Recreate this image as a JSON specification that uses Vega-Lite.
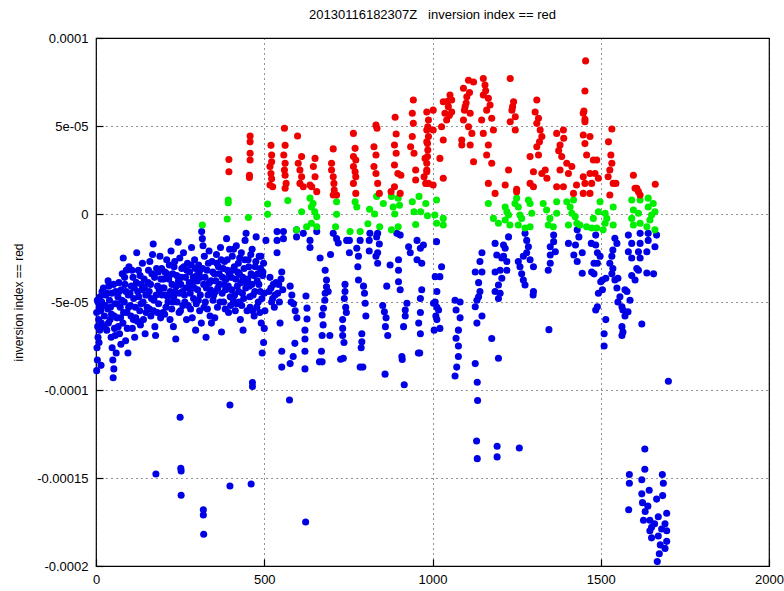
{
"$schema":"https://vega.github.io/schema/vega-lite/v6.json",
"width":673,"height":528,
"autosize":"none",
"padding":{"left":96,"top":38,"right":15,"bottom":25},
"background":"white",
"title":{"text":"20130116182307Z\u00a0\u00a0\u00a0inversion index == red","anchor":"middle","fontSize":13,"fontWeight":"normal","font":"Liberation Sans","color":"#000","offset":10},
"config":{"view":{"stroke":"#000","strokeWidth":1.2},"axis":{"labelFont":"Liberation Sans","labelFontSize":13,"labelColor":"#000","titleFont":"Liberation Sans","titleFontWeight":"normal","titleColor":"#000","domain":false,"grid":true,"gridColor":"#000","gridOpacity":0.85,"gridDash":[1,4],"gridWidth":1,"tickColor":"#000","ticks":true,"tickSize":-7,"tickWidth":1.2}},
"datasets":{
"b":[
{"x":2,"y":-8.9e-5},{"x":4,"y":-8.3e-5},{"x":3,"y":-7.6e-5},{"x":6,"y":-7.0e-5},{"x":5,"y":-6.4e-5},{"x":8,"y":-6.0e-5},{"x":2,"y":-5.6e-5},{"x":10,"y":-5.3e-5},{"x":6,"y":-5.0e-5},{"x":12,"y":-4.7e-5},{"x":14,"y":-5.5e-5},{"x":16,"y":-6.2e-5},{"x":18,"y":-4.4e-5},{"x":20,"y":-5.2e-5},{"x":22,"y":-4.2e-5},{"x":25,"y":-5.8e-5},{"x":28,"y":-4.6e-5},{"x":15,"y":-8.6e-5},{"x":9,"y":-7.3e-5},
{"x":32,"y":-6.6e-5},{"x":35,"y":-5.4e-5},{"x":38,"y":-4.1e-5},{"x":40,"y":-4.9e-5},{"x":42,"y":-6.0e-5},{"x":45,"y":-7.0e-5},{"x":48,"y":-7.6e-5},{"x":50,"y":-8.3e-5},{"x":51,"y":-9.3e-5},{"x":53,"y":-8.8e-5},{"x":55,"y":-6.5e-5},{"x":56,"y":-5.1e-5},{"x":58,"y":-4.4e-5},{"x":52,"y":-4.0e-5},{"x":60,"y":-7.9e-5},{"x":46,"y":-5.7e-5},{"x":36,"y":-3.8e-5},
{"x":62,"y":-5.9e-5},{"x":65,"y":-4.7e-5},{"x":68,"y":-3.9e-5},{"x":70,"y":-6.8e-5},{"x":72,"y":-5.3e-5},{"x":75,"y":-4.3e-5},{"x":78,"y":-3.4e-5},{"x":80,"y":-6.2e-5},{"x":81,"y":-2.5e-5},{"x":84,"y":-5.0e-5},{"x":86,"y":-4.0e-5},{"x":88,"y":-7.2e-5},{"x":90,"y":-3.2e-5},{"x":92,"y":-5.6e-5},{"x":95,"y":-7.9e-5},{"x":96,"y":-4.6e-5},{"x":98,"y":-3.0e-5},{"x":74,"y":-7.4e-5},
{"x":102,"y":-5.2e-5},{"x":105,"y":-4.1e-5},{"x":108,"y":-6.5e-5},{"x":110,"y":-3.6e-5},{"x":112,"y":-4.8e-5},{"x":115,"y":-7.0e-5},{"x":118,"y":-5.9e-5},{"x":121,"y":-2.2e-5},{"x":124,"y":-4.4e-5},{"x":126,"y":-3.2e-5},{"x":130,"y":-5.5e-5},{"x":132,"y":-6.3e-5},{"x":135,"y":-4.0e-5},{"x":138,"y":-2.8e-5},{"x":140,"y":-5.0e-5},{"x":143,"y":-3.7e-5},{"x":146,"y":-6.8e-5},{"x":148,"y":-4.6e-5},
{"x":152,"y":-5.3e-5},{"x":155,"y":-3.9e-5},{"x":158,"y":-4.4e-5},{"x":160,"y":-2.7e-5},{"x":163,"y":-5.8e-5},{"x":166,"y":-3.4e-5},{"x":170,"y":-1.7e-5},{"x":172,"y":-4.9e-5},{"x":175,"y":-6.4e-5},{"x":177,"y":-6.9e-5},{"x":180,"y":-3.1e-5},{"x":183,"y":-4.1e-5},{"x":186,"y":-5.1e-5},{"x":190,"y":-2.4e-5},{"x":193,"y":-3.7e-5},{"x":196,"y":-4.6e-5},{"x":199,"y":-5.6e-5},
{"x":202,"y":-4.2e-5},{"x":205,"y":-3.3e-5},{"x":208,"y":-5.3e-5},{"x":210,"y":-2.6e-5},{"x":213,"y":-4.7e-5},{"x":216,"y":-3.7e-5},{"x":220,"y":-6.0e-5},{"x":223,"y":-2.1e-5},{"x":226,"y":-4.0e-5},{"x":229,"y":-5.0e-5},{"x":232,"y":-3.0e-5},{"x":235,"y":-4.4e-5},{"x":237,"y":-7.1e-5},{"x":240,"y":-3.5e-5},{"x":244,"y":-1.6e-5},{"x":247,"y":-5.6e-5},{"x":249,"y":-2.5e-5},{"x":230,"y":-6.4e-5},
{"x":252,"y":-4.0e-5},{"x":255,"y":-3.1e-5},{"x":258,"y":-5.2e-5},{"x":260,"y":-2.2e-5},{"x":263,"y":-4.6e-5},{"x":266,"y":-3.6e-5},{"x":269,"y":-6.0e-5},{"x":272,"y":-2.8e-5},{"x":275,"y":-4.2e-5},{"x":278,"y":-3.3e-5},{"x":281,"y":-5.4e-5},{"x":284,"y":-1.9e-5},{"x":287,"y":-3.9e-5},{"x":290,"y":-4.8e-5},{"x":293,"y":-2.6e-5},{"x":296,"y":-6.6e-5},{"x":299,"y":-3.5e-5},
{"x":302,"y":-4.3e-5},{"x":305,"y":-2.9e-5},{"x":308,"y":-5.5e-5},{"x":311,"y":-3.6e-5},{"x":314,"y":-1.0e-5},{"x":316,"y":-1.4e-5},{"x":318,"y":-1.8e-5},{"x":320,"y":-4.0e-5},{"x":322,"y":-2.4e-5},{"x":325,"y":-5.0e-5},{"x":327,"y":-7.0e-5},{"x":330,"y":-3.2e-5},{"x":333,"y":-4.6e-5},{"x":336,"y":-2.1e-5},{"x":339,"y":-5.8e-5},{"x":342,"y":-3.8e-5},{"x":345,"y":-2.7e-5},{"x":348,"y":-4.9e-5},
{"x":352,"y":-3.4e-5},{"x":355,"y":-4.4e-5},{"x":358,"y":-2.3e-5},{"x":361,"y":-5.3e-5},{"x":364,"y":-3.0e-5},{"x":367,"y":-4.0e-5},{"x":370,"y":-1.9e-5},{"x":373,"y":-6.7e-5},{"x":376,"y":-3.6e-5},{"x":379,"y":-5.0e-5},{"x":382,"y":-2.7e-5},{"x":385,"y":-4.3e-5},{"x":388,"y":-1.4e-5},{"x":391,"y":-3.2e-5},{"x":394,"y":-5.6e-5},{"x":397,"y":-2.0e-5},{"x":399,"y":-4.7e-5},
{"x":402,"y":-3.6e-5},{"x":405,"y":-2.4e-5},{"x":408,"y":-4.9e-5},{"x":411,"y":-3.0e-5},{"x":414,"y":-5.5e-5},{"x":417,"y":-1.8e-5},{"x":420,"y":-4.1e-5},{"x":423,"y":-2.8e-5},{"x":426,"y":-3.4e-5},{"x":429,"y":-6.0e-5},{"x":432,"y":-2.2e-5},{"x":435,"y":-4.5e-5},{"x":437,"y":-6.6e-5},{"x":440,"y":-3.1e-5},{"x":443,"y":-1.5e-5},{"x":446,"y":-1.1e-5},{"x":448,"y":-3.9e-5},{"x":425,"y":-5.0e-5},
{"x":452,"y":-2.6e-5},{"x":455,"y":-4.1e-5},{"x":458,"y":-5.3e-5},{"x":461,"y":-3.4e-5},{"x":464,"y":-2.0e-5},{"x":467,"y":-4.6e-5},{"x":470,"y":-5.8e-5},{"x":473,"y":-3.0e-5},{"x":476,"y":-1.3e-5},{"x":479,"y":-3.8e-5},{"x":482,"y":-5.0e-5},{"x":485,"y":-2.4e-5},{"x":488,"y":-4.4e-5},{"x":491,"y":-6.2e-5},{"x":494,"y":-7.9e-5},{"x":496,"y":-3.3e-5},{"x":498,"y":-2.8e-5},
{"x":4,"y":-4.9e-5},{"x":11,"y":-6.6e-5},{"x":17,"y":-5.0e-5},{"x":24,"y":-6.4e-5},{"x":27,"y":-5.2e-5},{"x":33,"y":-4.5e-5},{"x":37,"y":-6.2e-5},{"x":43,"y":-5.3e-5},{"x":47,"y":-4.5e-5},{"x":54,"y":-5.8e-5},{"x":57,"y":-6.9e-5},{"x":63,"y":-5.1e-5},{"x":66,"y":-6.4e-5},{"x":69,"y":-4.4e-5},{"x":73,"y":-5.9e-5},{"x":77,"y":-4.9e-5},{"x":82,"y":-5.6e-5},{"x":85,"y":-3.6e-5},{"x":89,"y":-4.4e-5},{"x":93,"y":-6.5e-5},{"x":97,"y":-5.3e-5},
{"x":101,"y":-4.5e-5},{"x":104,"y":-5.8e-5},{"x":107,"y":-3.2e-5},{"x":111,"y":-6.0e-5},{"x":114,"y":-4.2e-5},{"x":117,"y":-5.3e-5},{"x":120,"y":-3.9e-5},{"x":123,"y":-6.1e-5},{"x":127,"y":-4.7e-5},{"x":131,"y":-3.5e-5},{"x":134,"y":-5.1e-5},{"x":137,"y":-4.3e-5},{"x":141,"y":-6.0e-5},{"x":144,"y":-4.2e-5},{"x":149,"y":-5.6e-5},
{"x":153,"y":-4.6e-5},{"x":156,"y":-3.2e-5},{"x":159,"y":-5.4e-5},{"x":162,"y":-4.0e-5},{"x":165,"y":-4.8e-5},{"x":168,"y":-2.3e-5},{"x":171,"y":-5.5e-5},{"x":174,"y":-3.6e-5},{"x":179,"y":-4.6e-5},{"x":182,"y":-5.6e-5},{"x":185,"y":-3.3e-5},{"x":188,"y":-4.3e-5},{"x":192,"y":-5.9e-5},{"x":195,"y":-3.1e-5},{"x":198,"y":-4.2e-5},
{"x":201,"y":-3.7e-5},{"x":204,"y":-5.7e-5},{"x":207,"y":-4.6e-5},{"x":211,"y":-3.4e-5},{"x":214,"y":-5.0e-5},{"x":218,"y":-2.9e-5},{"x":221,"y":-4.4e-5},{"x":225,"y":-5.4e-5},{"x":228,"y":-3.4e-5},{"x":231,"y":-4.7e-5},{"x":234,"y":-2.7e-5},{"x":238,"y":-4.1e-5},{"x":241,"y":-5.0e-5},{"x":245,"y":-3.8e-5},{"x":248,"y":-4.5e-5},
{"x":251,"y":-5.5e-5},{"x":254,"y":-3.6e-5},{"x":257,"y":-4.4e-5},{"x":261,"y":-3.0e-5},{"x":264,"y":-5.0e-5},{"x":267,"y":-4.2e-5},{"x":270,"y":-3.2e-5},{"x":274,"y":-5.2e-5},{"x":277,"y":-3.9e-5},{"x":280,"y":-4.5e-5},{"x":283,"y":-2.9e-5},{"x":286,"y":-5.9e-5},{"x":289,"y":-3.6e-5},{"x":292,"y":-4.2e-5},{"x":295,"y":-3.1e-5},{"x":298,"y":-5.1e-5},
{"x":301,"y":-3.8e-5},{"x":304,"y":-4.9e-5},{"x":307,"y":-3.3e-5},{"x":310,"y":-4.6e-5},{"x":313,"y":-6.2e-5},{"x":317,"y":-3.1e-5},{"x":321,"y":-5.3e-5},{"x":324,"y":-3.6e-5},{"x":328,"y":-4.2e-5},{"x":331,"y":-5.4e-5},{"x":334,"y":-2.8e-5},{"x":337,"y":-3.9e-5},{"x":340,"y":-4.3e-5},{"x":343,"y":-6.2e-5},{"x":347,"y":-3.3e-5},
{"x":350,"y":-4.6e-5},{"x":353,"y":-5.9e-5},{"x":356,"y":-3.8e-5},{"x":359,"y":-2.8e-5},{"x":362,"y":-4.2e-5},{"x":366,"y":-3.4e-5},{"x":369,"y":-5.0e-5},{"x":372,"y":-2.6e-5},{"x":375,"y":-4.5e-5},{"x":378,"y":-3.1e-5},{"x":381,"y":-4.0e-5},{"x":384,"y":-5.4e-5},{"x":387,"y":-3.7e-5},{"x":390,"y":-2.6e-5},{"x":393,"y":-4.1e-5},{"x":396,"y":-3.4e-5},
{"x":400,"y":-5.2e-5},{"x":403,"y":-4.3e-5},{"x":406,"y":-3.2e-5},{"x":409,"y":-2.0e-5},{"x":412,"y":-4.6e-5},{"x":415,"y":-3.7e-5},{"x":418,"y":-5.1e-5},{"x":421,"y":-3.3e-5},{"x":424,"y":-4.4e-5},{"x":427,"y":-2.5e-5},{"x":430,"y":-3.9e-5},{"x":433,"y":-5.2e-5},{"x":436,"y":-3.6e-5},{"x":439,"y":-4.8e-5},{"x":442,"y":-2.6e-5},{"x":445,"y":-4.2e-5},{"x":449,"y":-5.5e-5},
{"x":451,"y":-3.7e-5},{"x":454,"y":-3.0e-5},{"x":457,"y":-4.7e-5},{"x":460,"y":-2.3e-5},{"x":463,"y":-4.0e-5},{"x":466,"y":-5.5e-5},{"x":469,"y":-3.5e-5},{"x":472,"y":-4.4e-5},{"x":475,"y":-2.7e-5},{"x":478,"y":-5.3e-5},{"x":481,"y":-3.4e-5},{"x":484,"y":-4.0e-5},{"x":487,"y":-5.6e-5},{"x":489,"y":-3.1e-5},{"x":493,"y":-4.8e-5},
{"x":250,"y":-1.155e-4},{"x":178,"y":-1.477e-4},{"x":252,"y":-1.445e-4},{"x":253,"y":-1.46e-4},{"x":253,"y":-1.598e-4},{"x":319,"y":-1.68e-4},{"x":319,"y":-1.71e-4},{"x":320,"y":-1.82e-4},{"x":398,"y":-1.085e-4},{"x":398,"y":-1.545e-4},{"x":461,"y":-1.534e-4},{"x":465,"y":-9.58e-5},{"x":465,"y":-9.8e-5},
{"x":490,"y":-2.4e-5},{"x":495,"y":-3.5e-5},{"x":500,"y":-4.5e-5},{"x":502,"y":-5.5e-5},{"x":500,"y":-6.5e-5},{"x":498,"y":-7.3e-5},{"x":505,"y":-1.5e-5},
{"x":517,"y":-3.6e-5},{"x":520,"y":-4.2e-5},{"x":525,"y":-4.8e-5},{"x":530,"y":-5.3e-5},{"x":535,"y":-3.9e-5},{"x":540,"y":-4.5e-5},{"x":545,"y":-5.0e-5},{"x":550,"y":-3.7e-5},{"x":555,"y":-4.3e-5},{"x":527,"y":-4.0e-5},{"x":538,"y":-1.0e-5},{"x":538,"y":-1.5e-5},{"x":538,"y":-2.2e-5},{"x":552,"y":-3.3e-5},{"x":547,"y":-6.2e-5},{"x":552,"y":-7.8e-5},{"x":552,"y":-8.7e-5},{"x":557,"y":-1.0e-5},{"x":557,"y":-1.4e-5},{"x":522,"y":-5.0e-5},{"x":532,"y":-4.6e-5},{"x":543,"y":-4.0e-5},{"x":514,"y":-4.4e-5},
{"x":577,"y":-4.1e-5},{"x":582,"y":-4.6e-5},{"x":587,"y":-5.1e-5},{"x":592,"y":-5.5e-5},{"x":597,"y":-5.9e-5},{"x":580,"y":-5.0e-5},{"x":591,"y":-7.35e-5},{"x":586,"y":-8.1e-5},{"x":577,"y":-8.5e-5},{"x":575,"y":-1.057e-4},{"x":596,"y":-0.9e-5},{"x":596,"y":-1.3e-5},
{"x":624,"y":-4.66e-5},{"x":627,"y":-5.35e-5},{"x":627,"y":-5.97e-5},{"x":621,"y":-6.6e-5},{"x":621,"y":-7.1e-5},{"x":621,"y":-7.8e-5},{"x":621,"y":-8.8e-5},{"x":616,"y":-1.1e-5},{"x":636,"y":-1.5e-5},{"x":636,"y":-1.9e-5},{"x":623,"y":-1.75e-4},{"x":656,"y":-1.0e-5},
{"x":681,"y":-3.2e-5},{"x":685,"y":-3.75e-5},{"x":685,"y":-4.13e-5},{"x":681,"y":-4.5e-5},{"x":680,"y":-4.9e-5},{"x":676,"y":-5.36e-5},{"x":672,"y":-5.74e-5},{"x":672,"y":-6.9e-5},{"x":670,"y":-7.8e-5},{"x":672,"y":-8.4e-5},{"x":695,"y":-6.9e-5},{"x":697,"y":-2.3e-5},{"x":664,"y":-8.4e-5},{"x":666,"y":-2.5e-5},{"x":690,"y":-4.4e-5},{"x":675,"y":-6.3e-5},
{"x":705,"y":-1.1e-5},{"x":715,"y":-1.4e-5},{"x":720,"y":-1.65e-5},
{"x":740,"y":-4.0e-5},{"x":740,"y":-4.4e-5},{"x":738,"y":-4.8e-5},{"x":742,"y":-5.3e-5},{"x":744,"y":-5.6e-5},{"x":733,"y":-6.0e-5},{"x":733,"y":-6.5e-5},{"x":733,"y":-6.9e-5},{"x":737,"y":-7.3e-5},{"x":735,"y":-8.2e-5},{"x":727,"y":-8.25e-5},{"x":753,"y":-1.5e-5},{"x":753,"y":-2.2e-5},{"x":745,"y":-1.5e-5},
{"x":775,"y":-1.95e-5},{"x":780,"y":-2.4e-5},{"x":778,"y":-3.0e-5},{"x":780,"y":-3.75e-5},{"x":795,"y":-4.1e-5},{"x":798,"y":-4.5e-5},{"x":800,"y":-5.07e-5},{"x":802,"y":-5.8e-5},{"x":790,"y":-6.8e-5},{"x":790,"y":-7.26e-5},{"x":788,"y":-7.6e-5},{"x":785,"y":-8.7e-5},{"x":793,"y":-8.7e-5},{"x":785,"y":-1.5e-5},
{"x":812,"y":-1.5e-5},{"x":812,"y":-2.1e-5},{"x":832,"y":-2.4e-5},{"x":837,"y":-2.8e-5},{"x":837,"y":-1.1e-5},{"x":842,"y":-1.7e-5},{"x":837,"y":-2.2e-5},{"x":814,"y":-1.1e-5},{"x":834,"y":-1.3e-5},
{"x":852,"y":-5.2e-5},{"x":857,"y":-5.55e-5},{"x":862,"y":-5.9e-5},{"x":860,"y":-6.4e-5},{"x":867,"y":-6.9e-5},{"x":864,"y":-4.1e-5},{"x":874,"y":-2.9e-5},{"x":859,"y":-9.1e-5},
{"x":894,"y":-1.1e-5},{"x":904,"y":-1.2e-5},{"x":899,"y":-2.6e-5},{"x":899,"y":-3.2e-5},{"x":899,"y":-3.85e-5},{"x":904,"y":-4.3e-5},{"x":924,"y":-5.07e-5},{"x":919,"y":-5.45e-5},{"x":919,"y":-5.8e-5},{"x":914,"y":-6.4e-5},{"x":909,"y":-8.1e-5},{"x":916,"y":-9.7e-5},{"x":910,"y":-8.26e-5},
{"x":929,"y":-1.86e-5},{"x":934,"y":-2.2e-5},{"x":954,"y":-1.5e-5},{"x":964,"y":-1.95e-5},{"x":954,"y":-2.6e-5},{"x":973,"y":-1.76e-5},{"x":968,"y":-2.8e-5},{"x":968,"y":-4.3e-5},{"x":964,"y":-4.8e-5},{"x":964,"y":-5.6e-5},{"x":959,"y":-6.2e-5},{"x":964,"y":-6.8e-5},{"x":962,"y":-7.9e-5},{"x":958,"y":-7.9e-5},
{"x":1008,"y":-3.56e-5},{"x":1003,"y":-5.07e-5},{"x":1013,"y":-6.0e-5},{"x":1012,"y":-1.57e-5},{"x":1027,"y":-3.0e-5},{"x":1022,"y":-3.56e-5},{"x":1013,"y":-4.4e-5},{"x":1008,"y":-5.0e-5},{"x":1013,"y":-5.3e-5},{"x":1018,"y":-5.45e-5},{"x":1022,"y":-6.5e-5},{"x":1010,"y":-5.8e-5},{"x":1005,"y":-6.6e-5},
{"x":1067,"y":-4.9e-5},{"x":1082,"y":-5.0e-5},{"x":1070,"y":-5.45e-5},{"x":1082,"y":-5.9e-5},{"x":1077,"y":-6.6e-5},{"x":1070,"y":-7.06e-5},{"x":1077,"y":-7.5e-5},{"x":1077,"y":-8.1e-5},{"x":1072,"y":-8.7e-5},{"x":1067,"y":-9.2e-5},
{"x":1147,"y":-2.2e-5},{"x":1141,"y":-2.7e-5},{"x":1127,"y":-3.3e-5},{"x":1147,"y":-3.3e-5},{"x":1137,"y":-3.9e-5},{"x":1141,"y":-4.4e-5},{"x":1132,"y":-4.9e-5},{"x":1127,"y":-5.27e-5},{"x":1147,"y":-5.8e-5},{"x":1132,"y":-6.2e-5},{"x":1127,"y":-8.5e-5},{"x":1133,"y":-9.56e-5},{"x":1134,"y":-1.06e-4},{"x":1131,"y":-1.29e-4},{"x":1133,"y":-1.39e-4},{"x":1137,"y":-4.7e-5},
{"x":1176,"y":-7.07e-5},{"x":1196,"y":-8.2e-5},{"x":1192,"y":-1.32e-4},{"x":1192,"y":-1.38e-4},{"x":1258,"y":-1.33e-4},
{"x":1186,"y":-1.67e-5},{"x":1211,"y":-1.76e-5},{"x":1226,"y":-1.3e-5},{"x":1191,"y":-2.33e-5},{"x":1206,"y":-2.5e-5},{"x":1221,"y":-2.7e-5},{"x":1186,"y":-3.3e-5},{"x":1201,"y":-3.2e-5},{"x":1206,"y":-3.65e-5},{"x":1196,"y":-4.03e-5},{"x":1201,"y":-4.5e-5},{"x":1186,"y":-4.4e-5},{"x":1196,"y":-4.8e-5},{"x":1216,"y":-1.95e-5},{"x":1211,"y":-2.4e-5},{"x":1221,"y":-3.2e-5},
{"x":1275,"y":-1.1e-5},{"x":1280,"y":-1.5e-5},{"x":1285,"y":-1.86e-5},{"x":1280,"y":-2.2e-5},{"x":1270,"y":-2.4e-5},{"x":1255,"y":-2.7e-5},{"x":1260,"y":-3.0e-5},{"x":1265,"y":-3.4e-5},{"x":1270,"y":-3.75e-5},{"x":1300,"y":-3.0e-5},{"x":1300,"y":-4.4e-5},{"x":1275,"y":-4.03e-5},{"x":1290,"y":-2.6e-5},{"x":1299,"y":-4.6e-5},
{"x":1360,"y":-1.2e-5},{"x":1360,"y":-1.57e-5},{"x":1350,"y":-1.86e-5},{"x":1365,"y":-2.14e-5},{"x":1350,"y":-2.33e-5},{"x":1350,"y":-2.8e-5},{"x":1344,"y":-3.2e-5},{"x":1346,"y":-6.57e-5},
{"x":1404,"y":-1.67e-5},{"x":1430,"y":-0.9e-5},{"x":1435,"y":-1.3e-5},{"x":1425,"y":-1.76e-5},{"x":1420,"y":-2.33e-5},{"x":1445,"y":-2.2e-5},{"x":1430,"y":-2.7e-5},{"x":1445,"y":-3.37e-5},
{"x":1485,"y":-1.2e-5},{"x":1485,"y":-1.76e-5},{"x":1480,"y":-2.8e-5},{"x":1490,"y":-2.8e-5},{"x":1480,"y":-3.4e-5},{"x":1505,"y":-3.75e-5},{"x":1515,"y":-3.65e-5},{"x":1505,"y":-4.3e-5},{"x":1490,"y":-5.27e-5},{"x":1485,"y":-5.45e-5},{"x":1515,"y":-6.0e-5},{"x":1510,"y":-6.8e-5},{"x":1510,"y":-7.5e-5},{"x":1472,"y":-1.67e-5},{"x":1490,"y":-2.2e-5},{"x":1498,"y":-2.4e-5},{"x":1493,"y":-4.5e-5},{"x":1473,"y":-3.3e-5},{"x":1500,"y":-3.85e-5},
{"x":1542,"y":-1.38e-5},{"x":1548,"y":-1.67e-5},{"x":1536,"y":-2.05e-5},{"x":1533,"y":-2.4e-5},{"x":1527,"y":-2.8e-5},{"x":1536,"y":-3.1e-5},{"x":1533,"y":-3.4e-5},{"x":1542,"y":-3.75e-5},{"x":1551,"y":-3.65e-5},{"x":1548,"y":-4.2e-5},{"x":1557,"y":-4.7e-5},{"x":1551,"y":-5.0e-5},{"x":1563,"y":-5.27e-5},{"x":1566,"y":-5.45e-5},{"x":1572,"y":-5.8e-5},{"x":1563,"y":-6.4e-5},{"x":1566,"y":-6.7e-5},{"x":1563,"y":-6.9e-5},{"x":1572,"y":-4.3e-5},{"x":1578,"y":-4.4e-5},{"x":1587,"y":-4.9e-5},{"x":1581,"y":-5.55e-5},
{"x":1622,"y":-6.25e-5},{"x":1582,"y":-1.2e-5},{"x":1617,"y":-1.1e-5},{"x":1641,"y":-1.1e-5},{"x":1666,"y":-1.2e-5},{"x":1592,"y":-1.67e-5},{"x":1617,"y":-1.67e-5},{"x":1641,"y":-1.5e-5},{"x":1661,"y":-1.86e-5},{"x":1582,"y":-2.14e-5},{"x":1612,"y":-2.14e-5},{"x":1637,"y":-2.14e-5},{"x":1592,"y":-2.5e-5},{"x":1617,"y":-2.5e-5},{"x":1607,"y":-3.1e-5},{"x":1637,"y":-3.35e-5},{"x":1657,"y":-3.4e-5},{"x":1592,"y":-3.5e-5},{"x":1602,"y":-3.75e-5},{"x":1612,"y":-3.2e-5},
{"x":1701,"y":-9.5e-5},{"x":1631,"y":-1.335e-4},{"x":1631,"y":-1.45e-4},{"x":1585,"y":-1.48e-4},{"x":1585,"y":-1.53e-4},{"x":1583,"y":-1.68e-4},{"x":1683,"y":-1.48e-4},{"x":1686,"y":-1.53e-4},{"x":1684,"y":-1.6e-4},{"x":1622,"y":-1.51e-4},{"x":1622,"y":-1.59e-4},{"x":1624,"y":-1.64e-4},{"x":1644,"y":-1.57e-4},{"x":1666,"y":-1.62e-4},{"x":1632,"y":-1.69e-4},{"x":1627,"y":-1.74e-4},{"x":1646,"y":-1.74e-4},{"x":1671,"y":-1.72e-4},{"x":1696,"y":-1.7e-4},{"x":1691,"y":-1.76e-4},{"x":1646,"y":-1.8e-4},{"x":1651,"y":-1.84e-4},{"x":1671,"y":-1.83e-4},{"x":1696,"y":-1.86e-4},{"x":1691,"y":-1.9e-4},{"x":1674,"y":-1.93e-4},{"x":1668,"y":-1.975e-4},{"x":1677,"y":-1.88e-4},{"x":1696,"y":-1.8e-4},{"x":1651,"y":-1.78e-4},{"x":1640,"y":-1.66e-4},{"x":1660,"y":-1.76e-4},{"x":1681,"y":-1.79e-4}
],
"g":[
{"x":316,"y":-6.3e-6},{"x":393,"y":8e-6},{"x":393,"y":6.4e-6},{"x":390,"y":-2.8e-6},{"x":453,"y":-2e-6},{"x":510,"y":5.7e-6},{"x":510,"y":-2e-7},{"x":570,"y":7.6e-6},{"x":611,"y":1.3e-6},{"x":596,"y":-9e-6},
{"x":636,"y":9e-6},{"x":645,"y":6e-6},{"x":640,"y":4e-6},{"x":650,"y":1.3e-6},{"x":656,"y":-1.5e-6},{"x":640,"y":-5.3e-6},{"x":656,"y":-7.2e-6},{"x":626,"y":-7.2e-6},
{"x":715,"y":7e-6},{"x":715,"y":-2e-7},{"x":712,"y":-7.2e-6},{"x":755,"y":-1e-5},{"x":785,"y":-1e-5},{"x":770,"y":7e-6},{"x":775,"y":4e-6},
{"x":813,"y":2.7e-6},{"x":828,"y":0},{"x":808,"y":-5.5e-6},{"x":843,"y":-7.2e-6},{"x":834,"y":1e-5},{"x":854,"y":6e-6},
{"x":878,"y":1e-5},{"x":883,"y":4e-6},{"x":888,"y":0},{"x":898,"y":9e-6},{"x":902,"y":5e-6},{"x":878,"y":-9e-6},{"x":898,"y":-7.2e-6},
{"x":940,"y":7e-6},{"x":945,"y":1.3e-6},{"x":950,"y":-6e-6},{"x":960,"y":1e-5},{"x":965,"y":1.3e-6},{"x":980,"y":6e-6},{"x":985,"y":-1e-6},
{"x":1012,"y":8e-6},{"x":1007,"y":-6e-7},{"x":1012,"y":-5.3e-6},{"x":1032,"y":-2.5e-6},{"x":1032,"y":-6.3e-6},
{"x":1166,"y":6e-6},{"x":1181,"y":-2.5e-6},{"x":1196,"y":-5.3e-6},
{"x":1216,"y":4e-6},{"x":1221,"y":1.3e-6},{"x":1226,"y":-6e-7},{"x":1216,"y":-3.4e-6},{"x":1230,"y":-6.3e-6},{"x":1250,"y":9e-6},{"x":1245,"y":6e-6},{"x":1255,"y":4e-6},{"x":1260,"y":-6e-7},{"x":1265,"y":-2.5e-6},{"x":1255,"y":-6.3e-6},{"x":1275,"y":-8e-6},{"x":1290,"y":-7.2e-6},{"x":1285,"y":8e-6},{"x":1290,"y":6e-6},{"x":1295,"y":4e-7},
{"x":1329,"y":6e-6},{"x":1339,"y":2.3e-6},{"x":1349,"y":-2.5e-6},{"x":1344,"y":-6.3e-6},{"x":1359,"y":-7.2e-6},{"x":1369,"y":4e-7},{"x":1369,"y":7e-6},
{"x":1399,"y":7e-6},{"x":1409,"y":4e-6},{"x":1419,"y":8e-6},{"x":1414,"y":4e-7},{"x":1424,"y":-1.5e-6},{"x":1429,"y":-5.3e-6},{"x":1404,"y":-6.3e-6},{"x":1438,"y":-6.3e-6},
{"x":1458,"y":-7.2e-6},{"x":1473,"y":-8e-6},{"x":1478,"y":-2.5e-6},{"x":1488,"y":-8e-6},
{"x":1498,"y":7e-6},{"x":1493,"y":1.3e-6},{"x":1513,"y":4e-7},{"x":1513,"y":-5.3e-6},{"x":1518,"y":-2.5e-6},{"x":1537,"y":4e-6},{"x":1537,"y":-6.3e-6},{"x":1507,"y":-9e-6},
{"x":1592,"y":8e-6},{"x":1597,"y":2.3e-6},{"x":1592,"y":-2.5e-6},{"x":1597,"y":-6.3e-6},{"x":1612,"y":4e-7},{"x":1617,"y":8e-6},{"x":1617,"y":-5.3e-6},{"x":1641,"y":9e-6},{"x":1641,"y":4e-6},{"x":1646,"y":-3.4e-6},{"x":1656,"y":6e-6},{"x":1661,"y":1.3e-6},{"x":1661,"y":-9e-6},{"x":1637,"y":-7.2e-6},{"x":1651,"y":-6e-7}
],
"r":[
{"x":395,"y":3.1e-5},{"x":395,"y":2.4e-5},
{"x":458,"y":4.43e-5},{"x":458,"y":4.1e-5},{"x":458,"y":3.45e-5},{"x":458,"y":3.07e-5},{"x":456,"y":2.2e-5},{"x":456,"y":2.08e-5},
{"x":520,"y":3.9e-5},{"x":522,"y":3.35e-5},{"x":522,"y":2.97e-5},{"x":517,"y":2.7e-5},{"x":520,"y":2.3e-5},{"x":522,"y":2.0e-5},{"x":517,"y":1.65e-5},{"x":525,"y":1.55e-5},
{"x":560,"y":4.87e-5},{"x":562,"y":3.9e-5},{"x":558,"y":3.35e-5},{"x":562,"y":2.88e-5},{"x":560,"y":2.5e-5},{"x":562,"y":2.2e-5},{"x":565,"y":1.74e-5},{"x":562,"y":1.46e-5},
{"x":599,"y":4.43e-5},{"x":611,"y":3.26e-5},{"x":601,"y":2.88e-5},{"x":606,"y":2.5e-5},{"x":611,"y":2.12e-5},{"x":606,"y":1.74e-5},{"x":616,"y":1.55e-5},{"x":636,"y":1.65e-5},{"x":651,"y":3.16e-5},{"x":646,"y":2.7e-5},{"x":651,"y":2.12e-5},{"x":641,"y":1.55e-5},{"x":656,"y":1.27e-5},
{"x":705,"y":3.7e-5},{"x":700,"y":2.88e-5},{"x":700,"y":2.5e-5},{"x":705,"y":2.12e-5},{"x":707,"y":1.74e-5},{"x":708,"y":1.36e-5},{"x":715,"y":1.08e-5},{"x":705,"y":1.08e-5},
{"x":765,"y":4.58e-5},{"x":770,"y":3.73e-5},{"x":765,"y":3.26e-5},{"x":772,"y":3.07e-5},{"x":765,"y":2.7e-5},{"x":770,"y":2.4e-5},{"x":772,"y":2.12e-5},{"x":765,"y":1.74e-5},{"x":772,"y":1.17e-5},
{"x":832,"y":5.06e-5},{"x":835,"y":4.87e-5},{"x":826,"y":3.82e-5},{"x":832,"y":3.35e-5},{"x":826,"y":2.7e-5},{"x":832,"y":2.3e-5},{"x":837,"y":1.74e-5},{"x":842,"y":1.17e-5},
{"x":889,"y":5.5e-5},{"x":892,"y":4.55e-5},{"x":887,"y":3.92e-5},{"x":892,"y":3.45e-5},{"x":887,"y":2.78e-5},{"x":897,"y":2.3e-5},{"x":887,"y":1.55e-5},{"x":877,"y":1.27e-5},{"x":906,"y":2.2e-5},{"x":904,"y":1.17e-5},
{"x":943,"y":6.48e-5},{"x":940,"y":5.72e-5},{"x":943,"y":5.15e-5},{"x":940,"y":4.4e-5},{"x":935,"y":3.82e-5},{"x":945,"y":3.45e-5},{"x":950,"y":2.5e-5},{"x":950,"y":1.93e-5},{"x":975,"y":2.12e-5},{"x":980,"y":1.74e-5},
{"x":983,"y":5.8e-5},{"x":983,"y":4.77e-5},{"x":983,"y":4.1e-5},{"x":978,"y":3.16e-5},{"x":983,"y":2.5e-5},
{"x":988,"y":5.34e-5},{"x":986,"y":4.96e-5},{"x":988,"y":4.4e-5},{"x":985,"y":4.0e-5},{"x":986,"y":3.64e-5},{"x":985,"y":3.26e-5},{"x":983,"y":2.88e-5},{"x":983,"y":2.4e-5},{"x":981,"y":1.74e-5},{"x":988,"y":1.74e-5},{"x":1002,"y":1.65e-5},{"x":1002,"y":5.9e-5},{"x":1002,"y":4.77e-5},
{"x":1032,"y":6.38e-5},{"x":1037,"y":5.72e-5},{"x":1052,"y":6.76e-5},{"x":1047,"y":6.1e-5},{"x":1042,"y":5.34e-5},{"x":1057,"y":6.48e-5},{"x":1057,"y":5.8e-5},{"x":1027,"y":4.96e-5},{"x":1032,"y":4.2e-5},{"x":1022,"y":3.16e-5},{"x":1032,"y":2.03e-5},{"x":1045,"y":6.4e-5},{"x":1050,"y":5.6e-5},
{"x":1092,"y":7.14e-5},{"x":1107,"y":7.6e-5},{"x":1122,"y":7.5e-5},{"x":1102,"y":6.66e-5},{"x":1097,"y":6.1e-5},{"x":1112,"y":5.72e-5},{"x":1092,"y":5.34e-5},{"x":1107,"y":4.96e-5},{"x":1117,"y":4.58e-5},{"x":1087,"y":4.2e-5},{"x":1087,"y":3.92e-5},{"x":1112,"y":3.92e-5},{"x":1122,"y":2.97e-5},{"x":1100,"y":6.3e-5},{"x":1110,"y":6.9e-5},{"x":1095,"y":5.9e-5},
{"x":1151,"y":7.7e-5},{"x":1156,"y":7.33e-5},{"x":1151,"y":6.76e-5},{"x":1166,"y":6.57e-5},{"x":1171,"y":6.19e-5},{"x":1161,"y":5.9e-5},{"x":1146,"y":5.34e-5},{"x":1176,"y":5.44e-5},{"x":1181,"y":4.77e-5},{"x":1151,"y":4.58e-5},{"x":1166,"y":3.92e-5},{"x":1161,"y":3.35e-5},{"x":1176,"y":2.88e-5},{"x":1166,"y":1.74e-5},{"x":1186,"y":1.17e-5},{"x":1158,"y":7.0e-5},
{"x":1231,"y":7.7e-5},{"x":1241,"y":6.38e-5},{"x":1236,"y":5.9e-5},{"x":1246,"y":5.53e-5},{"x":1231,"y":5.24e-5},{"x":1246,"y":4.77e-5},{"x":1226,"y":2.5e-5},{"x":1216,"y":1.65e-5},{"x":1250,"y":1.4e-5},{"x":1250,"y":1.27e-5},{"x":1238,"y":6.1e-5},
{"x":1310,"y":6.48e-5},{"x":1305,"y":5.8e-5},{"x":1315,"y":5.44e-5},{"x":1310,"y":5.15e-5},{"x":1320,"y":4.77e-5},{"x":1325,"y":4.4e-5},{"x":1310,"y":3.82e-5},{"x":1315,"y":3.35e-5},{"x":1290,"y":3.26e-5},{"x":1300,"y":2.4e-5},{"x":1290,"y":1.74e-5},{"x":1300,"y":1.55e-5},{"x":1325,"y":2.3e-5},{"x":1335,"y":2.5e-5},{"x":1340,"y":2.03e-5},{"x":1318,"y":4.1e-5},
{"x":1369,"y":4.58e-5},{"x":1379,"y":3.92e-5},{"x":1389,"y":4.77e-5},{"x":1384,"y":3.26e-5},{"x":1399,"y":2.88e-5},{"x":1379,"y":2.5e-5},{"x":1369,"y":1.55e-5},{"x":1389,"y":1.55e-5},{"x":1404,"y":2.3e-5},{"x":1414,"y":2.7e-5},{"x":1419,"y":1.17e-5},{"x":1390,"y":4.3e-5},{"x":1375,"y":3.6e-5},
{"x":1448,"y":5.72e-5},{"x":1453,"y":5.24e-5},{"x":1448,"y":4.49e-5},{"x":1453,"y":4.0e-5},{"x":1468,"y":4.4e-5},{"x":1458,"y":3.35e-5},{"x":1478,"y":3.07e-5},{"x":1468,"y":2.3e-5},{"x":1448,"y":2.12e-5},{"x":1428,"y":1.65e-5},{"x":1453,"y":1.74e-5},{"x":1473,"y":1.74e-5},{"x":1448,"y":1.17e-5},{"x":1468,"y":1.17e-5},
{"x":1455,"y":8.7e-5},{"x":1453,"y":6.99e-5},{"x":1450,"y":5.85e-5},{"x":1453,"y":5.38e-5},
{"x":1488,"y":3.07e-5},{"x":1483,"y":2.3e-5},{"x":1493,"y":2.03e-5},
{"x":1533,"y":4.83e-5},{"x":1523,"y":4.1e-5},{"x":1530,"y":3.35e-5},{"x":1533,"y":2.88e-5},{"x":1527,"y":2.5e-5},{"x":1522,"y":2.12e-5},{"x":1537,"y":1.74e-5},{"x":1545,"y":1.74e-5},{"x":1527,"y":1.08e-5},
{"x":1597,"y":2.2e-5},{"x":1602,"y":1.46e-5},{"x":1607,"y":1.46e-5},{"x":1612,"y":1.27e-5},{"x":1617,"y":1.08e-5},{"x":1662,"y":1.69e-5}
]
},
"layer":[
{"data":{"name":"b"},"mark":{"type":"circle","size":50,"opacity":1,"color":"#0000e6"},
"encoding":{
"x":{"field":"x","type":"quantitative","scale":{"domain":[0,2000],"nice":false,"zero":false},"axis":{"values":[0,500,1000,1500,2000],"format":"d","title":null,"labelPadding":14,"labelFlush":false}},
"y":{"field":"y","type":"quantitative","scale":{"domain":[-0.0002,0.0001],"nice":false,"zero":false},"axis":{"values":[0.0001,0.00005,0,-0.00005,-0.0001,-0.00015,-0.0002],"labelExpr":"datum.value > 7e-5 ? '0.0001' : datum.value > 2e-5 ? '5e-05' : datum.value > -2e-5 ? '0' : datum.value > -7e-5 ? '-5e-05' : datum.value > -1.2e-4 ? '-0.0001' : datum.value > -1.7e-4 ? '-0.00015' : '-0.0002'","title":"inversion index == red","titleFontSize":12,"titleX":-78,"titleY":264,"titleAngle":-90,"titleAlign":"center","titleBaseline":"middle","labelPadding":15}}
}},
{"data":{"name":"g"},"mark":{"type":"circle","size":50,"opacity":1,"color":"#00ee00"},
"encoding":{"x":{"field":"x","type":"quantitative"},"y":{"field":"y","type":"quantitative"}}},
{"data":{"name":"r"},"mark":{"type":"circle","size":50,"opacity":1,"color":"#ee0000"},
"encoding":{"x":{"field":"x","type":"quantitative"},"y":{"field":"y","type":"quantitative"}}}
]
}
